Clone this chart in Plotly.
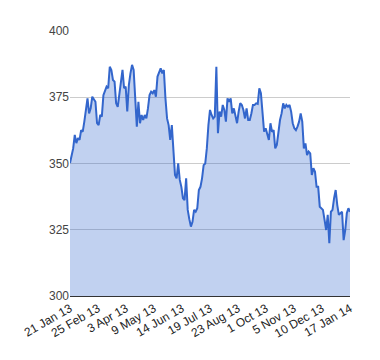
import plotly.graph_objects as go

values = [
    350.2, 353, 355.7, 360.8, 357.7, 359.6, 358.9, 362.6, 362, 365.8,
    371.4, 374.6, 368.9, 370.8, 375.2, 374, 373.3, 365.2, 364.5, 368.3,
    367.7, 375.8, 377.7, 379, 378.4, 386.5, 385.3, 381.5, 380.9,
    372.7, 371.4, 375.8, 381, 385.3, 378.4, 379, 369.6, 379.6, 384, 387.2,
    385.3, 374.6, 363.9, 373.3, 365.2, 368.3, 366.4, 368.3, 367, 370.8,
    375.8, 377.1, 376.5, 377.7, 375.2,
    382.8, 384.6, 385.9, 384, 385.3, 374.6, 367, 364.5, 358.9, 364.5,
    353.2, 345.7, 344.4, 350.1, 343.8, 341.2, 336.9, 336.2, 344.4, 332.5,
    329, 326.2, 328, 332.5, 331.8, 333.1, 340, 341.2, 344.4, 349.4,
    350, 355.7, 364.5, 370.2,
    368.3, 367, 367.7, 386.5, 361.4, 369.6, 367.7, 372.1, 370.2, 365.8,
    374.6, 373.3, 374.6, 368.9, 370.8, 367.7, 365.2, 369.6, 372.8, 372.1,
    370.2, 367, 370.8, 366.4, 366.4, 368.9, 372.1,
    372.1, 372.7, 372.5, 378.4, 376.5, 370.2, 362, 363.3, 361.4, 358.9,
    365.2, 362, 362.6, 355.7, 357, 362, 366.4, 368.9, 372.7, 370.8,
    372.1, 371.4, 372.1, 369.6, 365.2, 363.3, 362.6, 363.9, 365.8, 368.9,
    365.8, 355.7, 357.6, 353.2, 354.5, 353.8, 345.7, 348.2, 346.9, 341.2,
    341.2, 333.7, 333.1, 332.5, 328.7, 324.9, 330.6, 319.9, 331.8, 332.5,
    336.9, 340, 334.3, 330.6, 331.2, 331.8, 321.1, 324.9, 331.2, 333.1,
    331.8,
]

tick_labels = ["21 Jan 13", "25 Feb 13", "3 Apr 13", "9 May 13", "14 Jun 13",
               "19 Jul 13", "23 Aug 13", "1 Oct 13", "5 Nov 13", "10 Dec 13",
               "17 Jan 14"]
y_ticks = [300, 325, 350, 375, 400]

n = len(values)
x = list(range(n))
tick_pos = [i * (n - 1) / (len(tick_labels) - 1) for i in range(len(tick_labels))]

fig = go.Figure()
fig.add_trace(go.Scatter(
    x=x, y=values, mode="lines",
    line=dict(color="#3366cc", width=2),
    fill="tozeroy", fillcolor="rgba(51,102,204,0.3)",
    hoverinfo="skip",
))

fig.update_layout(
    width=372, height=352,
    margin=dict(l=62, r=30, t=23, b=64, autoexpand=False),
    paper_bgcolor="white", plot_bgcolor="white",
    showlegend=False,
    font=dict(family="Liberation Sans, Arial, sans-serif", size=12, color="#222"),
    xaxis=dict(
        range=[0, n - 1], tickvals=tick_pos, ticktext=tick_labels,
        tickangle=-30, showgrid=False, zeroline=False,
        showline=True, linecolor="#333", linewidth=1, ticks="",
        tickfont=dict(size=12, color="#222"),
    ),
    yaxis=dict(
        range=[300, 400], tickvals=y_ticks, showgrid=True, gridcolor="#cccccc",
        zeroline=False, ticks="", tickfont=dict(size=12, color="#444"),
    ),
)

fig.write_html("out.html")
